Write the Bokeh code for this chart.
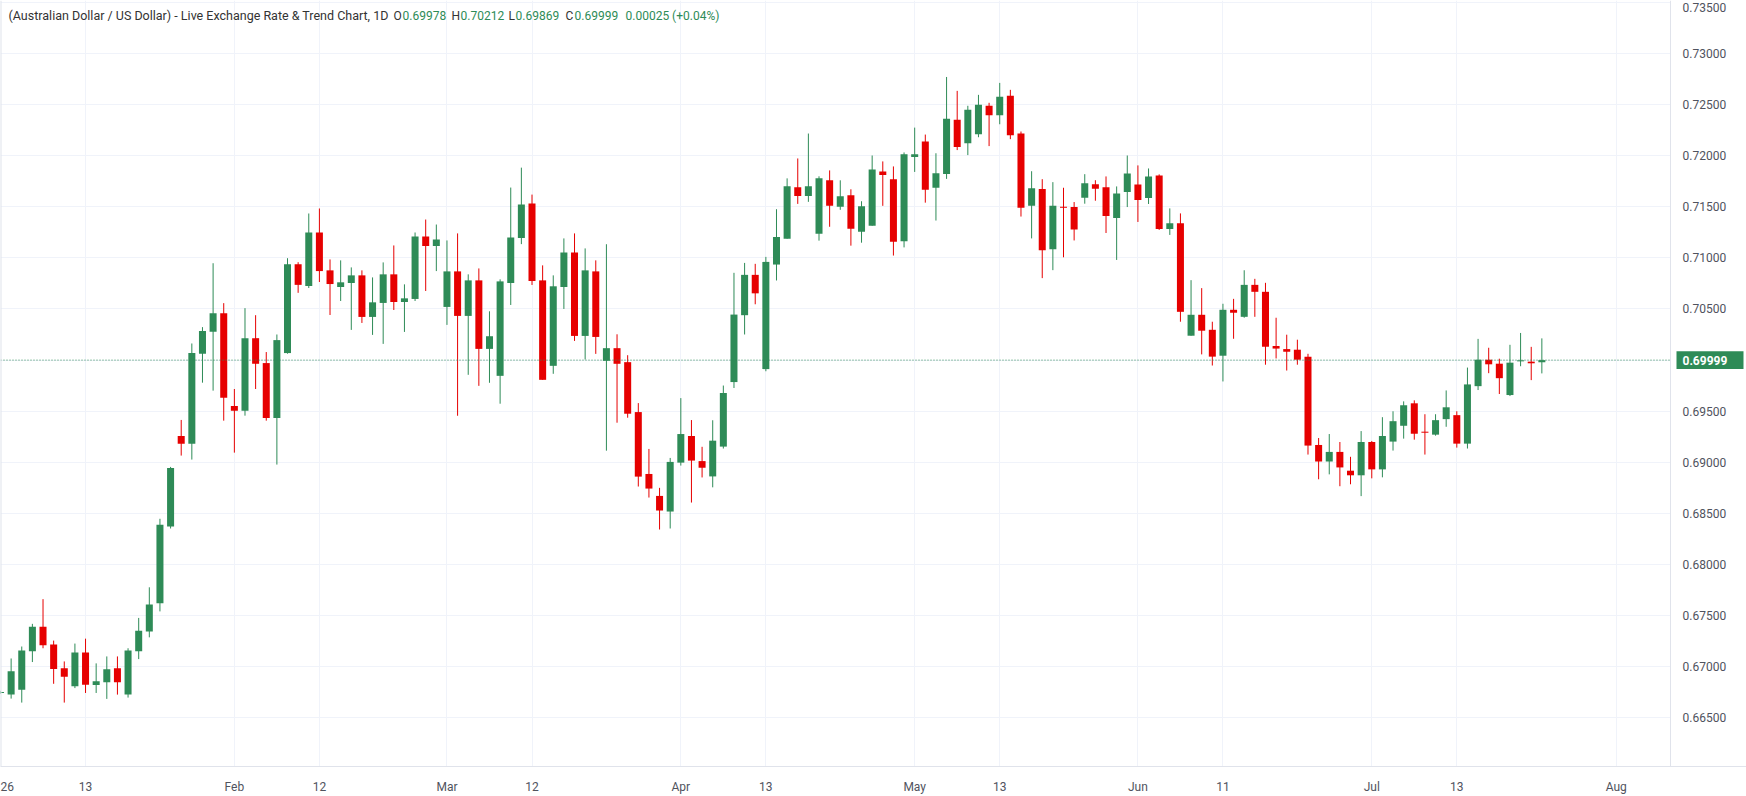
import numpy as np
from bokeh.plotting import figure
from bokeh.models import Range1d, FixedTicker, Label, Span, ColumnDataSource
from bokeh.core.properties import value
from bokeh.embed import file_html
from bokeh.resources import INLINE

# ---- data (AUD/USD daily, trading-day index from 2026-01-01) ----
opens = [0.66740, 0.66723, 0.66771, 0.67148, 0.67387, 0.67213, 0.66981, 0.66806, 0.67135, 0.66816,
         0.66845, 0.66981, 0.66723, 0.67148, 0.67342, 0.67617, 0.68370, 0.69256, 0.69181, 0.70061,
         0.70276, 0.70459, 0.69550, 0.69504, 0.70214, 0.69970, 0.69432, 0.70068, 0.70938, 0.70725,
         0.71249, 0.70878, 0.70715, 0.70754, 0.70829, 0.70422, 0.70559, 0.70839, 0.70568, 0.70598,
         0.71210, 0.71116, 0.70520, 0.70868, 0.70432, 0.70780, 0.70109, 0.69845, 0.70754, 0.71194,
         0.71533, 0.70780, 0.69943, 0.70715, 0.71054, 0.70236, 0.70868, 0.69992, 0.70116, 0.69979,
         0.69490, 0.68884, 0.68669, 0.68516, 0.68995, 0.69256, 0.69010, 0.68860, 0.69152, 0.69784,
         0.70439, 0.70834, 0.69911, 0.70935, 0.71188, 0.71692, 0.71607, 0.71237, 0.71760, 0.71500,
         0.71614, 0.71257, 0.71315, 0.71847, 0.71770, 0.71162, 0.71988, 0.72140, 0.71687, 0.71823,
         0.72354, 0.72124, 0.72212, 0.72490, 0.72396, 0.72587, 0.72218, 0.71512, 0.71674, 0.71084,
         0.71502, 0.71499, 0.71590, 0.71722, 0.71691, 0.71391, 0.71645, 0.71720, 0.71586, 0.71808,
         0.71283, 0.71339, 0.70238, 0.70443, 0.70296, 0.70042, 0.70492, 0.70423, 0.70736, 0.70668,
         0.70137, 0.70107, 0.70101, 0.70032, 0.69168, 0.69006, 0.69100, 0.68916, 0.68871, 0.69197,
         0.68929, 0.69201, 0.69356, 0.69576, 0.69298, 0.69269, 0.69421, 0.69460, 0.69181, 0.69744,
         0.70003, 0.69964, 0.69657, 0.69987, 0.69984, 0.69978]
highs = [0.66760, 0.67077, 0.67194, 0.67416, 0.67658, 0.67252, 0.67048, 0.67223, 0.67271, 0.67029,
         0.67097, 0.67097, 0.67177, 0.67474, 0.67774, 0.68445, 0.68953, 0.69413, 0.70162, 0.70322,
         0.70948, 0.70557, 0.69716, 0.70508, 0.70439, 0.70078, 0.70250, 0.70997, 0.70958, 0.71435,
         0.71484, 0.70985, 0.70976, 0.70907, 0.70878, 0.70809, 0.70956, 0.71122, 0.70741, 0.71249,
         0.71376, 0.71327, 0.71171, 0.71240, 0.70839, 0.70897, 0.70477, 0.70790, 0.71689, 0.71884,
         0.71620, 0.70927, 0.70829, 0.71191, 0.71240, 0.71093, 0.70976, 0.71134, 0.70252, 0.70047,
         0.69578, 0.69129, 0.68748, 0.69041, 0.69627, 0.69412, 0.69150, 0.69410, 0.69750, 0.70854,
         0.70951, 0.70942, 0.71010, 0.71477, 0.71779, 0.71974, 0.72218, 0.71799, 0.71857, 0.71760,
         0.71672, 0.71555, 0.72003, 0.71945, 0.71896, 0.72033, 0.72276, 0.72208, 0.72025, 0.72772,
         0.72636, 0.72490, 0.72597, 0.72519, 0.72714, 0.72646, 0.72238, 0.71849, 0.71771, 0.71742,
         0.71687, 0.71547, 0.71820, 0.71761, 0.71798, 0.71700, 0.72003, 0.71906, 0.71876, 0.71818,
         0.71485, 0.71436, 0.70782, 0.70704, 0.70375, 0.70551, 0.70599, 0.70879, 0.70795, 0.70756,
         0.70414, 0.70248, 0.70199, 0.70061, 0.69236, 0.69275, 0.69197, 0.69052, 0.69304, 0.69207,
         0.69440, 0.69498, 0.69595, 0.69605, 0.69469, 0.69469, 0.69702, 0.69498, 0.69926, 0.70207,
         0.70120, 0.70013, 0.70149, 0.70265, 0.70129, 0.70212]
lows = [0.66730, 0.66684, 0.66645, 0.67042, 0.67177, 0.66829, 0.66645, 0.66787, 0.66739, 0.66739,
        0.66681, 0.66723, 0.66694, 0.67071, 0.67284, 0.67538, 0.68350, 0.69064, 0.69025, 0.69778,
        0.69700, 0.69406, 0.69093, 0.69455, 0.69716, 0.69406, 0.68976, 0.70062, 0.70658, 0.70705,
        0.70764, 0.70441, 0.70578, 0.70295, 0.70363, 0.70246, 0.70158, 0.70490, 0.70275, 0.70578,
        0.70676, 0.70871, 0.70344, 0.69454, 0.69855, 0.69747, 0.69777, 0.69572, 0.70539, 0.71135,
        0.70735, 0.69806, 0.69865, 0.70500, 0.70187, 0.70005, 0.70060, 0.69112, 0.69386, 0.69435,
        0.68761, 0.68653, 0.68340, 0.68350, 0.68966, 0.68604, 0.68850, 0.68753, 0.69133, 0.69726,
        0.70250, 0.70546, 0.69890, 0.70779, 0.71188, 0.71529, 0.71549, 0.71169, 0.71305, 0.71471,
        0.71120, 0.71149, 0.71315, 0.71510, 0.71023, 0.71103, 0.71842, 0.71541, 0.71366, 0.71774,
        0.72056, 0.72007, 0.72182, 0.72095, 0.72309, 0.72163, 0.71405, 0.71191, 0.70802, 0.70880,
        0.71006, 0.71171, 0.71531, 0.71560, 0.71244, 0.70980, 0.71498, 0.71352, 0.71528, 0.71274,
        0.71225, 0.70375, 0.70238, 0.70055, 0.69946, 0.69790, 0.70208, 0.70414, 0.70423, 0.69954,
        0.70015, 0.69897, 0.69954, 0.69074, 0.68832, 0.68880, 0.68764, 0.68783, 0.68667, 0.68841,
        0.68851, 0.69113, 0.69230, 0.69220, 0.69074, 0.69259, 0.69346, 0.69142, 0.69133, 0.69706,
        0.69871, 0.69667, 0.69647, 0.69939, 0.69803, 0.69869]
closes = [0.66748, 0.66952, 0.67155, 0.67387, 0.67206, 0.66974, 0.66897, 0.67135, 0.66819, 0.66855,
          0.66971, 0.66845, 0.67155, 0.67348, 0.67606, 0.68386, 0.68943, 0.69181, 0.70068, 0.70283,
          0.70459, 0.69631, 0.69504, 0.70214, 0.69963, 0.69432, 0.70195, 0.70938, 0.70736, 0.71249,
          0.70871, 0.70744, 0.70761, 0.70829, 0.70422, 0.70565, 0.70839, 0.70568, 0.70604, 0.71210,
          0.71116, 0.71181, 0.70868, 0.70432, 0.70780, 0.70109, 0.70233, 0.70770, 0.71200, 0.71523,
          0.70774, 0.69806, 0.70722, 0.71054, 0.70236, 0.70878, 0.70226, 0.70116, 0.69963, 0.69474,
          0.68858, 0.68741, 0.68526, 0.69002, 0.69275, 0.69015, 0.68945, 0.69210, 0.69677, 0.70445,
          0.70834, 0.70653, 0.70961, 0.71205, 0.71701, 0.71607, 0.71701, 0.71779, 0.71510, 0.71604,
          0.71286, 0.71506, 0.71867, 0.71812, 0.71159, 0.72014, 0.72014, 0.71667, 0.71829, 0.72364,
          0.72085, 0.72451, 0.72500, 0.72396, 0.72578, 0.72202, 0.71492, 0.71683, 0.71074, 0.71512,
          0.71492, 0.71278, 0.71732, 0.71677, 0.71410, 0.71632, 0.71827, 0.71567, 0.71798, 0.71283,
          0.71339, 0.70472, 0.70443, 0.70287, 0.70033, 0.70492, 0.70463, 0.70736, 0.70668, 0.70130,
          0.70112, 0.70081, 0.70003, 0.69162, 0.69006, 0.69100, 0.68948, 0.68871, 0.69197, 0.68929,
          0.69256, 0.69401, 0.69557, 0.69278, 0.69288, 0.69411, 0.69537, 0.69181, 0.69761, 0.70003,
          0.69958, 0.69822, 0.69974, 0.69997, 0.69968, 0.69999]

start_date = "2026-01-01"
tick_dates = ["2026-01-01", "2026-01-13", "2026-02-02", "2026-02-12", "2026-03-02", "2026-03-12",
              "2026-04-01", "2026-04-13", "2026-05-01", "2026-05-13", "2026-06-01", "2026-06-11",
              "2026-07-01", "2026-07-13", "2026-08-03"]
tick_labels = ["26", "13", "Feb", "12", "Mar", "12", "Apr", "13", "May", "13", "Jun", "11",
               "Jul", "13", "Aug"]
price_ticks = [0.665, 0.67, 0.675, 0.68, 0.685, 0.69, 0.695, 0.705, 0.71, 0.715, 0.72,
               0.725, 0.73, 0.735]
title_text = "(Australian Dollar / US Dollar) - Live Exchange Rate & Trend Chart, 1D"
last_open, last_high, last_low, last_close = 0.69978, 0.70212, 0.69869, 0.69999
change_text = "0.00025 (+0.04%)"

# ---- style / layout ----
GREEN = "#2e8b57"
RED = "#e60000"
GRID = "#f0f3fa"
BORDER = "#e0e3eb"
AXIS_TEXT = "#50535e"
DARK = "#333333"
FONT = "Roboto"

W, H = 1746, 796
AXIS_H = 25
PLOT_W = 1670          # width of the candle pane; price scale to its right
FRAME_H = H - AXIS_H
BAR_PX = 10.63
Y0, Y1 = 0.66019, 0.73521
px_unit = FRAME_H / (Y1 - Y0)

def xs(px):            # screen px -> x data units
    return px / BAR_PX

n = len(opens)
idx = np.arange(n)
o = np.array(opens); hi = np.array(highs); lo = np.array(lows); c = np.array(closes)
colors = [GREEN if cc >= oo else RED for oo, cc in zip(o, c)]
min_body = 1.0 / px_unit
top = np.maximum(o, c)
bot = np.minimum(o, c)
bot = np.where((top - bot) < min_body, top - min_body, bot)

src = ColumnDataSource(dict(x=idx, top=top, bottom=bot, high=hi, low=lo, color=colors))

p = figure(width=W, height=H, output_backend="svg", toolbar_location=None,
           x_range=Range1d(0, xs(W)), y_range=Range1d(Y0, Y1),
           y_axis_location=None, min_border_left=0, min_border_top=0,
           min_border_right=0, min_border_bottom=AXIS_H,
           background_fill_color="white", border_fill_color="white")
p.outline_line_color = None

# candles
p.segment(x0="x", y0="low", x1="x", y1="high", source=src, line_color="color", line_width=1)
p.vbar(x="x", width=0.66, top="top", bottom="bottom", source=src,
       fill_color="color", line_color=None)

# last price dotted line
p.segment(x0=[0], x1=[xs(PLOT_W)], y0=[last_close], y1=[last_close],
          line_color=GREEN, line_dash="1 2", line_width=1)

# price scale pane (covers grid lines)
p.quad(left=[xs(PLOT_W)], right=[xs(W)], bottom=[Y0], top=[Y1],
       fill_color="white", line_color=None)
label_y = [min(t, Y1 - 7 / px_unit) for t in price_ticks]   # keep the top label inside
p.text(x=[xs(PLOT_W + 12)] * len(price_ticks), y=label_y,
       text=[f"{t:.5f}" for t in price_ticks], text_baseline="middle",
       text_font=value(FONT), text_font_size="12px", text_color=AXIS_TEXT)
p.quad(left=[xs(PLOT_W + 6)], right=[xs(W - 3)],
       bottom=[last_close - 9 / px_unit], top=[last_close + 9 / px_unit],
       fill_color=GREEN, line_color=None)
p.text(x=[xs(PLOT_W + 12)], y=[last_close], text=[f"{last_close:.5f}"],
       text_baseline="middle", text_font=value(FONT), text_font_size="12px",
       text_font_style="bold", text_color="white")

p.add_layout(Span(location=xs(PLOT_W), dimension="height", line_color=BORDER, line_width=1))
p.add_layout(Span(location=0, dimension="height", line_color=BORDER, line_width=2))

# x axis
tick_idx = [int(np.busday_count(start_date, d)) for d in tick_dates]
p.xaxis.ticker = FixedTicker(ticks=tick_idx)
p.xaxis.major_label_overrides = {t: l for t, l in zip(tick_idx, tick_labels)}
p.xgrid.ticker = FixedTicker(ticks=tick_idx)
p.xaxis.axis_line_color = BORDER
p.xaxis.major_tick_line_color = None
p.xaxis.minor_tick_line_color = None
p.xaxis.major_label_standoff = 7
p.xaxis.major_label_text_font = FONT
p.xaxis.major_label_text_font_size = "12px"
p.xaxis.major_label_text_color = AXIS_TEXT

p.ygrid.ticker = FixedTicker(ticks=price_ticks + [0.7])
p.xgrid.grid_line_color = GRID
p.ygrid.grid_line_color = GRID

# header
title_y = Y1 - 15.5 / px_unit
def tlabel(x, text, color, size="12px"):
    p.add_layout(Label(x=x, y=title_y, x_units="screen", y_units="data", text=text,
                       text_color=color, text_font=FONT, text_font_size=size,
                       text_baseline="middle"))

tlabel(8, title_text, DARK, "12.5px")
tlabel(393, "O", DARK); tlabel(402, f"{last_open:.5f}", GREEN)
tlabel(451, "H", DARK); tlabel(460, f"{last_high:.5f}", GREEN)
tlabel(508, "L", DARK); tlabel(515, f"{last_low:.5f}", GREEN)
tlabel(565, "C", DARK); tlabel(574, f"{last_close:.5f}", GREEN)
tlabel(625, change_text, GREEN)

open("out.html", "w").write(file_html(p, INLINE))
